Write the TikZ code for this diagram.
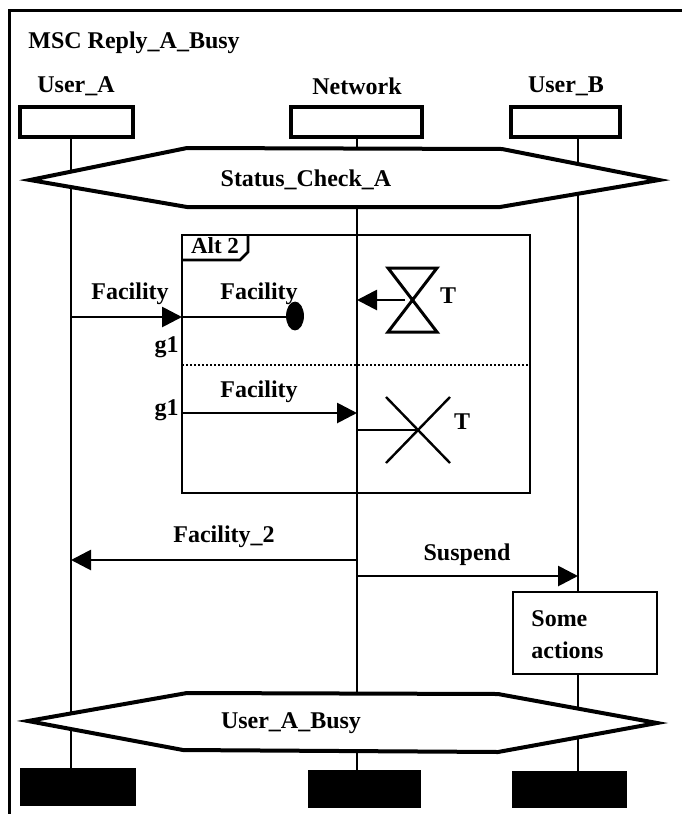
\documentclass[tikz,border=0pt]{standalone}
\usepackage{fontspec}
\setmainfont{Liberation Serif}
\usetikzlibrary{arrows.meta,shapes.geometric}
\begin{document}
\begin{tikzpicture}[x=0.5pt,y=-0.5pt,
  lbl/.style={font=\bfseries\fontsize{12}{13}\selectfont, inner sep=0pt},
  headbox/.style={draw, line width=1.7pt, fill=white, inner sep=0pt},
  endbox/.style={draw, fill=black, inner sep=0pt},
  life/.style={line width=1pt},
  hexa/.style={draw, line width=2pt, fill=white, line join=miter},
  msg/.style={line width=1.4pt, -{Triangle[length=10pt,width=10pt]}},
  thinframe/.style={line width=1.3pt},
  timer/.style={line width=1.5pt}
]
\useasboundingbox (0,0) rectangle (682,814);
% frame
\coordinate (f1) at (9,814);
\coordinate (f2) at (9,10);
\coordinate (f3) at (682,10);
\draw[line width=1.5pt] (f1) -- (f2) -- (f3);
\node[lbl, anchor=west] (title) at (28,43) {MSC Reply\_A\_Busy};

% instance names
\node[lbl] (na) at (76,86) {User\_A};
\node[lbl] (nn) at (357,86) {Network};
\node[lbl] (nb) at (566,86) {User\_B};

% lifeline coordinates
\coordinate (at) at (71,137);  \coordinate (ab) at (71,768);
\coordinate (nt) at (357,137); \coordinate (nbm) at (357,770);
\coordinate (bt) at (578,137); \coordinate (bb) at (578,771);
\draw[life] (at) -- (ab);
\draw[life] (nt) -- (nbm);
\draw[life] (bt) -- (bb);

% head boxes
\node[headbox, minimum width=56.5pt, minimum height=15pt] (ha) at (76.5,122) {};
\node[headbox, minimum width=65.5pt, minimum height=15pt] (hn) at (356.5,122) {};
\node[headbox, minimum width=54.5pt, minimum height=15pt] (hb) at (565.5,122) {};

% end boxes
\node[endbox, minimum width=57.5pt, minimum height=18.5pt] (ea) at (77.5,786.5) {};
\node[endbox, minimum width=56pt, minimum height=18.5pt] (en) at (364,788.5) {};
\node[endbox, minimum width=57pt, minimum height=18pt] (eb) at (569,789) {};

% Status_Check_A hexagon
\coordinate (s1) at (30,180);
\coordinate (s2) at (187,148);
\coordinate (s3) at (502,149);
\coordinate (s4) at (659,180);
\coordinate (s5) at (500,207);
\coordinate (s6) at (187,207);
\path[hexa] (s1) -- (s2) -- (s3) -- (s4) -- (s5) -- (s6) -- cycle;
\node[lbl] (sc) at (306,180) {Status\_Check\_A};

% Alt box
\coordinate (al1) at (182,235);
\coordinate (al2) at (530,493);
\draw[thinframe] (al1) rectangle (al2);
\coordinate (t1) at (248,235);
\coordinate (t2) at (248,252);
\coordinate (t3) at (240,260);
\coordinate (t4) at (182,260);
\draw[thinframe] (t1) -- (t2) -- (t3) -- (t4);
\node[lbl, font=\bfseries\fontsize{11.5}{12}\selectfont] (alt) at (215,246) {Alt 2};
\coordinate (sp1) at (182,365);
\coordinate (sp2) at (530,365);
\draw[line width=1pt, densely dotted] (sp1) -- (sp2);

% Facility into gate
\coordinate (m1a) at (71,317);
\coordinate (g1) at (182,317);
\draw[msg] (m1a) -- (g1);
\node[lbl] (l1) at (130,294) {Facility};
\node[lbl, anchor=east] (g1a) at (179,347) {g1};

% lost message
\coordinate (lost) at (295,317);
\draw[line width=1.4pt] (g1) -- (lost);
\node[draw, fill=black, ellipse, minimum width=8.5pt, minimum height=14pt, inner sep=0pt] (lostdot) at (295,316) {};
\node[lbl] (l2) at (259,294) {Facility};

% timer set (hourglass)
\coordinate (h1) at (388,268);
\coordinate (h2) at (437,268);
\coordinate (h3) at (437,332);
\coordinate (h4) at (388,332);
\draw[timer, line join=miter] (h1) -- (h2) -- (h4) -- (h3) -- cycle;
\coordinate (hc) at (405,300);
\coordinate (hn1) at (357,300);
\draw[msg] (hc) -- (hn1);
\node[lbl] (T1) at (448,296) {T};

% second alternative
\coordinate (g2) at (182,413);
\coordinate (m2b) at (357,413);
\draw[msg] (g2) -- (m2b);
\node[lbl] (l3) at (259,392) {Facility};
\node[lbl, anchor=east] (g1b) at (179,410) {g1};

% timer stop
\coordinate (ts0) at (357,430);
\coordinate (tsc) at (418,430);
\draw[line width=1.2pt] (ts0) -- (tsc);
\coordinate (x1) at (386,397);
\coordinate (x2) at (450,463);
\coordinate (x3) at (450,397);
\coordinate (x4) at (386,463);
\draw[line width=1.2pt] (x1) -- (x2);
\draw[line width=1.2pt] (x3) -- (x4);
\node[lbl] (T2) at (462,422) {T};

% Facility_2 and Suspend
\coordinate (f2a) at (357,560);
\coordinate (f2b) at (71,560);
\draw[msg] (f2a) -- (f2b);
\node[lbl] (l4) at (224,537) {Facility\_2};
\coordinate (s2a) at (357,576);
\coordinate (s2b) at (578,576);
\draw[msg] (s2a) -- (s2b);
\node[lbl] (l5) at (467,555) {Suspend};

% action box
\coordinate (ac1) at (513,592);
\coordinate (ac2) at (657,674);
\draw[line width=1.3pt, fill=white] (ac1) rectangle (ac2);
\node[lbl, anchor=west, align=left, font=\bfseries\fontsize{12}{16}\selectfont] (act) at (531,635) {Some\\actions};

% User_A_Busy hexagon
\coordinate (u1) at (28,721);
\coordinate (u2) at (187,693);
\coordinate (u3) at (498,694);
\coordinate (u4) at (657,723);
\coordinate (u5) at (498,752);
\coordinate (u6) at (183,750);
\path[hexa] (u1) -- (u2) -- (u3) -- (u4) -- (u5) -- (u6) -- cycle;
\node[lbl] (ub) at (291,723) {User\_A\_Busy};
\end{tikzpicture}
\end{document}
